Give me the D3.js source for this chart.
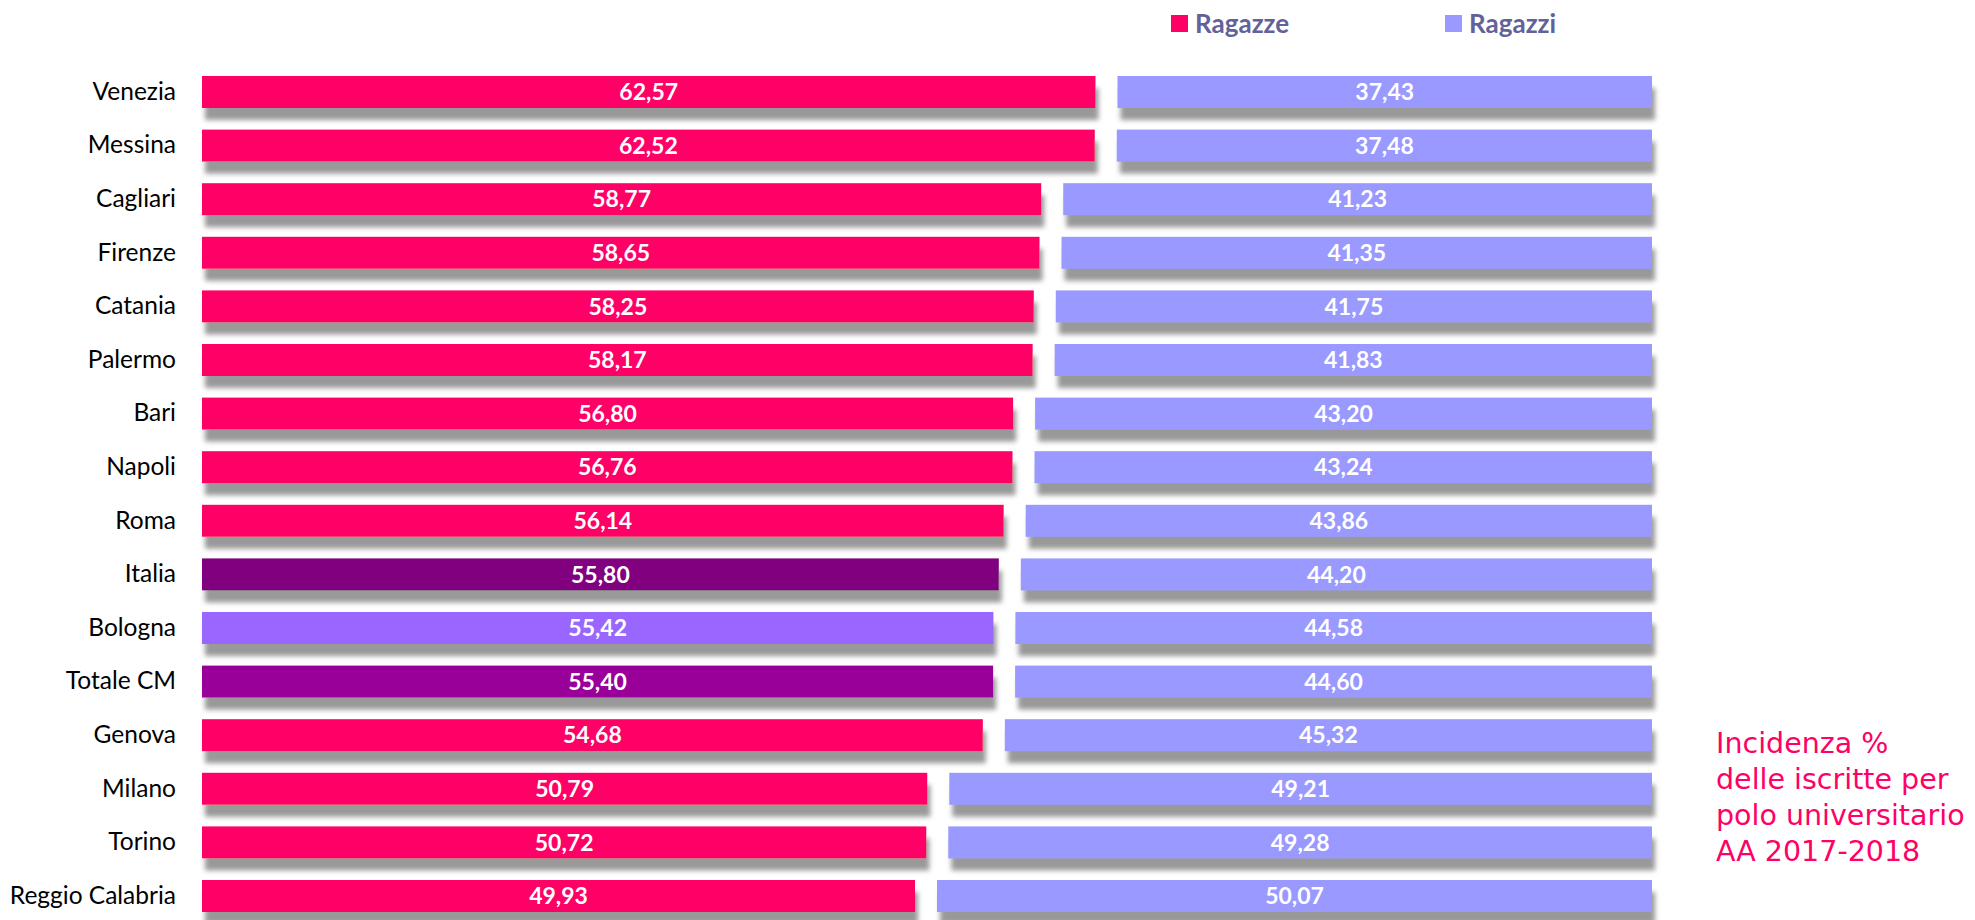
<!DOCTYPE html>
<html>
<head>
<meta charset="utf-8">
<script src="https://d3js.org/d3.v7.min.js"></script>
<style>
  html, body { margin: 0; padding: 0; background: #fff; }
  svg { display: block; }
</style>
</head>
<body>
<div id="chart"></div>
<script>
// data
const cities = ["Venezia", "Messina", "Cagliari", "Firenze", "Catania", "Palermo", "Bari", "Napoli",
  "Roma", "Italia", "Bologna", "Totale CM", "Genova", "Milano", "Torino", "Reggio Calabria"];
const ragazze = [62.57, 62.52, 58.77, 58.65, 58.25, 58.17, 56.80, 56.76,
  56.14, 55.80, 55.42, 55.40, 54.68, 50.79, 50.72, 49.93];
const ragazzi = [37.43, 37.48, 41.23, 41.35, 41.75, 41.83, 43.20, 43.24,
  43.86, 44.20, 44.58, 44.60, 45.32, 49.21, 49.28, 50.07];
const seriesNames = ["Ragazze", "Ragazzi"];
const noteLines = ["Incidenza %", "delle iscritte per", "polo universitario", "AA 2017-2018"];

// special colours for some rows
const pink = "#FF0066", lavender = "#9999FF";
const rowColor = { "Italia": "#800080", "Bologna": "#9966FF", "Totale CM": "#990099" };

const width = 1975, height = 920;
const gap = 22;

const rows = cities.map((c, i) => ({ city: c, f: ragazze[i], m: ragazzi[i] }));

const svg = d3.select('#chart').append('svg')
  .attr('width', width)
  .attr('height', height);

// heavy grey drop shadow under each bar
const defs = svg.append('defs');
const shadow = defs.append('filter')
  .attr('id', 'shadow')
  .attr('x', '-5%').attr('y', '-30%')
  .attr('width', '115%').attr('height', '220%');
shadow.append('feDropShadow')
  .attr('dx', 3).attr('dy', 12)
  .attr('stdDeviation', 2.5)
  .attr('flood-color', '#999999')
  .attr('flood-opacity', 1);

const x = d3.scaleLinear().domain([0, 100]).range([202, 1630]);
const y = d3.scaleBand().domain(cities)
  .range([65.2, 65.2 + 16 * 53.6])
  .paddingInner(0.403)
  .paddingOuter(0.2015);

const it = d3.formatLocale({ decimal: ",", thousands: ".", grouping: [3], currency: ["", "€"] });
const fmt = it.format(".2f");

const g = svg.append('g');

const row = g.selectAll('.row')
  .data(rows)
  .enter()
  .append('g')
  .attr('class', 'row');

row.append('rect')
  .attr('x', x(0))
  .attr('y', d => y(d.city))
  .attr('width', d => x(d.f) - x(0))
  .attr('height', y.bandwidth())
  .attr('fill', d => rowColor[d.city] || pink)
  .attr('filter', 'url(#shadow)');

row.append('rect')
  .attr('x', d => x(d.f) + gap)
  .attr('y', d => y(d.city))
  .attr('width', d => x(100) - x(d.f))
  .attr('height', y.bandwidth())
  .attr('fill', lavender)
  .attr('filter', 'url(#shadow)');

// value labels
row.append('text')
  .attr('x', d => (x(0) + x(d.f)) / 2)
  .attr('y', d => y(d.city) + y.bandwidth() / 2)
  .attr('dy', '0.36em')
  .attr('text-anchor', 'middle')
  .style('font-family', 'Lato, sans-serif')
  .style('font-weight', 'bold')
  .style('font-size', '23px')
  .attr('fill', '#fff')
  .text(d => fmt(d.f));

row.append('text')
  .attr('x', d => (x(d.f) + gap + x(100) + gap) / 2)
  .attr('y', d => y(d.city) + y.bandwidth() / 2)
  .attr('dy', '0.36em')
  .attr('text-anchor', 'middle')
  .style('font-family', 'Lato, sans-serif')
  .style('font-weight', 'bold')
  .style('font-size', '23px')
  .attr('fill', '#fff')
  .text(d => fmt(d.m));

// category axis
const yAxis = g.append('g')
  .attr('transform', `translate(${x(0) - 26},0)`)
  .call(d3.axisLeft(y).tickSize(0).tickPadding(0));
yAxis.select('.domain').remove();
yAxis.selectAll('text')
  .style('font-family', 'Lato, sans-serif')
  .style('font-size', '24.5px')
  .attr('fill', '#000');

// legend
const legendX = [1171, 1445];
const legendColors = [pink, lavender];
const legend = svg.append('g').selectAll('g')
  .data(seriesNames)
  .enter()
  .append('g')
  .attr('transform', (d, i) => `translate(${legendX[i]},15)`);
legend.append('rect')
  .attr('width', 17).attr('height', 17)
  .attr('fill', (d, i) => legendColors[i]);
legend.append('text')
  .attr('x', 24).attr('y', 18)
  .style('font-family', 'Lato, sans-serif')
  .style('font-weight', 'bold')
  .style('font-size', '26px')
  .attr('fill', '#62629a')
  .text(d => d);

// note on the right
svg.append('text')
  .attr('x', 1716)
  .attr('y', 753)
  .style('font-family', '"DejaVu Sans", sans-serif')
  .style('font-size', '28.5px')
  .attr('fill', pink)
  .selectAll('tspan')
  .data(noteLines)
  .enter()
  .append('tspan')
  .attr('x', 1716)
  .attr('dy', (d, i) => i === 0 ? 0 : 36)
  .text(d => d);
</script>
</body>
</html>
